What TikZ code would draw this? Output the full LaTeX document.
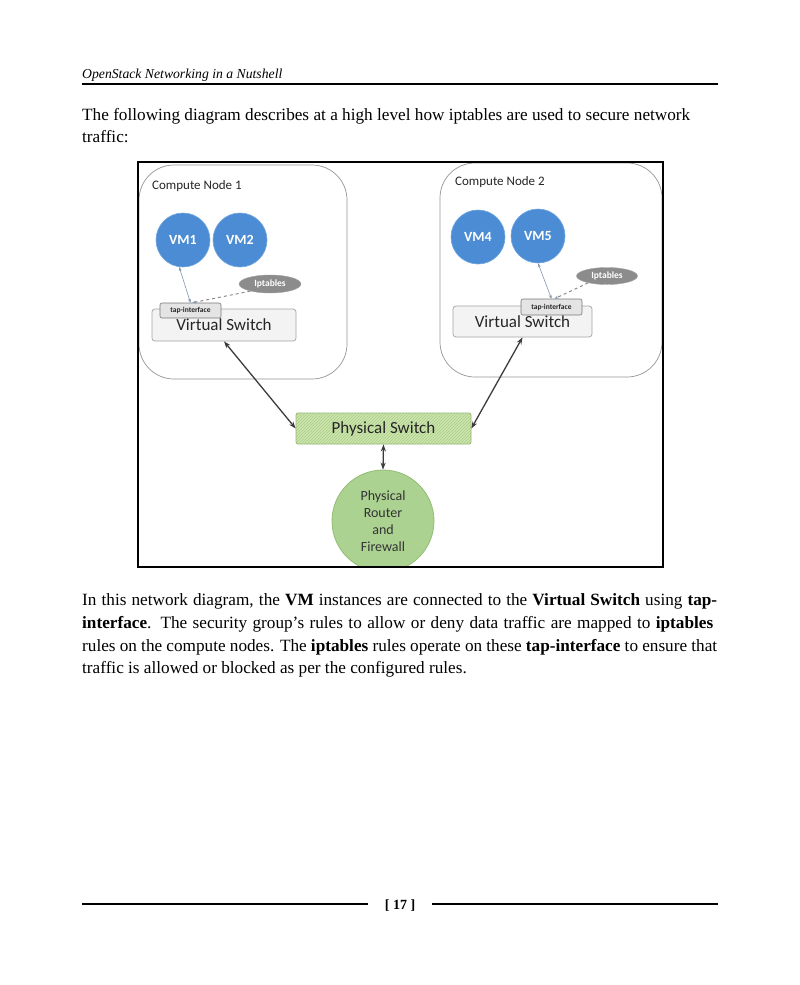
\documentclass[tikz,border=0pt]{standalone}
\usepackage{fontspec}
\setmainfont{Liberation Serif}
\newfontfamily\diag{Carlito}
\usetikzlibrary{arrows.meta,patterns,shapes.geometric}
\definecolor{vmblue}{RGB}{76,140,212}
\definecolor{vmedge}{RGB}{110,165,225}
\definecolor{iptgray}{RGB}{140,140,140}
\definecolor{cnedge}{RGB}{150,150,150}
\definecolor{vsfill}{RGB}{243,243,243}
\definecolor{vsedge}{RGB}{165,165,165}
\definecolor{tapfill}{RGB}{228,228,228}
\definecolor{tapedge}{RGB}{120,120,120}
\definecolor{psfill}{RGB}{205,230,175}
\definecolor{pshatch}{RGB}{170,205,135}
\definecolor{psedge}{RGB}{150,185,120}
\definecolor{rtfill}{RGB}{172,210,145}
\definecolor{rtedge}{RGB}{145,190,115}
\definecolor{arrowgray}{RGB}{60,60,60}
\definecolor{thinarrow}{RGB}{130,150,175}
\tikzset{
  bodytext/.style={anchor=base west, inner sep=0, font=\fontsize{17.2}{20}\selectfont},
  cnbox/.style={draw=cnedge, line width=0.7, rounded corners=35, inner sep=0},
  cnlabel/.style={anchor=west, inner sep=0, font=\diag\fontsize{13}{14}\selectfont, text=black!85},
  vm/.style={circle, fill=vmblue, draw=vmedge, line width=0.6, minimum size=54, inner sep=0,
     text=white, font=\diag\bfseries\fontsize{14}{16}\selectfont},
  ipt/.style={ellipse, fill=iptgray, draw=iptgray!80!white, inner sep=0,
     text=white, font=\diag\bfseries\fontsize{9.5}{11}\selectfont},
  vswitch/.style={rectangle, rounded corners=3, fill=vsfill, draw=vsedge, line width=0.7, inner sep=0,
     font=\diag\fontsize{17}{19}\selectfont, text=black!85},
  tap/.style={rectangle, rounded corners=2, fill=tapfill, draw=tapedge, line width=0.6, inner sep=0,
     font=\diag\bfseries\fontsize{7.5}{9}\selectfont, text=black!85},
  link/.style={draw=arrowgray, line width=1.3, {Stealth[length=7,width=5]}-{Stealth[length=7,width=5]}},
  thin/.style={draw=thinarrow, line width=0.6, {Stealth[length=4,width=3]}-{Stealth[length=4,width=3]}},
  dashlink/.style={draw=iptgray, line width=1, dashed, -{Stealth[length=4,width=3,color=thinarrow]}},
}
\begin{document}
\begin{tikzpicture}[x=1pt,y=-1pt]
\useasboundingbox (0,0) rectangle (800,985);
\fill[white] (0,0) rectangle (800,985);

% header
\node[anchor=base west, inner sep=0, font=\fontsize{13.7}{15}\selectfont\itshape] (hdr) at (82,78) {OpenStack Networking in a Nutshell};
\draw[line width=1.5] (82,84) -- (718,84);

% first paragraph
\node[bodytext] (p1) at (82,120) {\makebox[608pt][s]{The following diagram describes at a high level how iptables are used to secure network}};
\node[bodytext] (p2) at (82,142) {traffic:};

% compute node boxes
\node[cnbox, minimum width=208, minimum height=214] (cn1) at (243,272) {};
\node[cnbox, minimum width=222, minimum height=214] (cn2) at (551,270) {};
\node[cnlabel] (l1) at (152,186) {Compute Node 1};
\node[cnlabel] (l2) at (455,182) {Compute Node 2};

% VMs
\node[vm] (vm1) at (183,240) {VM1};
\node[vm] (vm2) at (240,240) {VM2};
\node[vm] (vm4) at (478,237) {VM4};
\node[vm] (vm5) at (538,236) {VM5};

% iptables
\node[ipt, minimum width=62, minimum height=18] (ipt1) at (270,284) {Iptables};
\node[ipt, minimum width=61, minimum height=17] (ipt2) at (607,276) {Iptables};

% virtual switches and taps
\node[vswitch, minimum width=144, minimum height=32] (vs1) at (224,325) {\raisebox{-3pt}{Virtual Switch}};
\node[tap, minimum width=61, minimum height=15] (tap1) at (190.5,310.5) {tap-interface};
\node[vswitch, minimum width=139, minimum height=31] (vs2) at (522.5,321.5) {\raisebox{-1pt}{Virtual Switch}};
\node[tap, minimum width=61, minimum height=16] (tap2) at (551.5,307) {tap-interface};

% physical switch
\node[rectangle, rounded corners=2, fill=psfill, minimum width=175, minimum height=31, inner sep=0] (psbg) at (383.5,428.5) {};
\node[rectangle, rounded corners=2, pattern={north east lines}, pattern color=pshatch, draw=psedge, line width=0.7,
      minimum width=175, minimum height=31, inner sep=0, font=\diag\fontsize{17}{19}\selectfont, text=black!85] (ps) at (383.5,428.5) {Physical Switch};

% router (clipped by frame)
\begin{scope}
\clip (138,162) rectangle (663,567);
\node[circle, fill=rtfill, draw=rtedge, line width=0.8, minimum size=102, inner sep=0, align=center,
      font=\diag\fontsize{14}{17}\selectfont, text=black!80] (rt) at (383,521) {Physical\\Router\\and\\Firewall};
\end{scope}

% frame
\draw[line width=1.8] (138,162) rectangle (663,567);

% connectors
\draw[thin] (vm1.-98) -- (tap1.north);
\draw[dashlink] (ipt1.200) -- ([xshift=2]tap1.north);
\draw[thin] (vm5.south) -- (tap2.north);
\draw[dashlink] (ipt2.200) -- ([xshift=3]tap2.north);
\draw[link] (vs1.south) -- (ps.west);
\draw[link] (vs2.south) -- (ps.east);
\draw[link] (ps.south) -- (rt.north);

% caption paragraph
\node[bodytext] (c1) at (82,605) {\makebox[635pt][s]{In this network diagram, the \textbf{VM} instances are connected to the \textbf{Virtual Switch} using \textbf{tap-}}};
\node[bodytext] (c2) at (82,628) {\makebox[631pt][s]{\textbf{interface}. The security group's rules to allow or deny data traffic are mapped to \textbf{iptables}}};
\node[bodytext] (c3) at (82,651) {\makebox[635pt][s]{rules on the compute nodes. The \textbf{iptables} rules operate on these \textbf{tap-interface} to ensure that}};
\node[bodytext] (c4) at (82,673) {traffic is allowed or blocked as per the configured rules.};

% footer
\draw[line width=1.5] (82,904) -- (368,904);
\node[anchor=base, inner sep=0, font=\fontsize{14}{16}\selectfont\bfseries] (pg) at (400,909) {[ 17 ]};
\draw[line width=1.5] (432,904) -- (718,904);
\end{tikzpicture}
\end{document}
